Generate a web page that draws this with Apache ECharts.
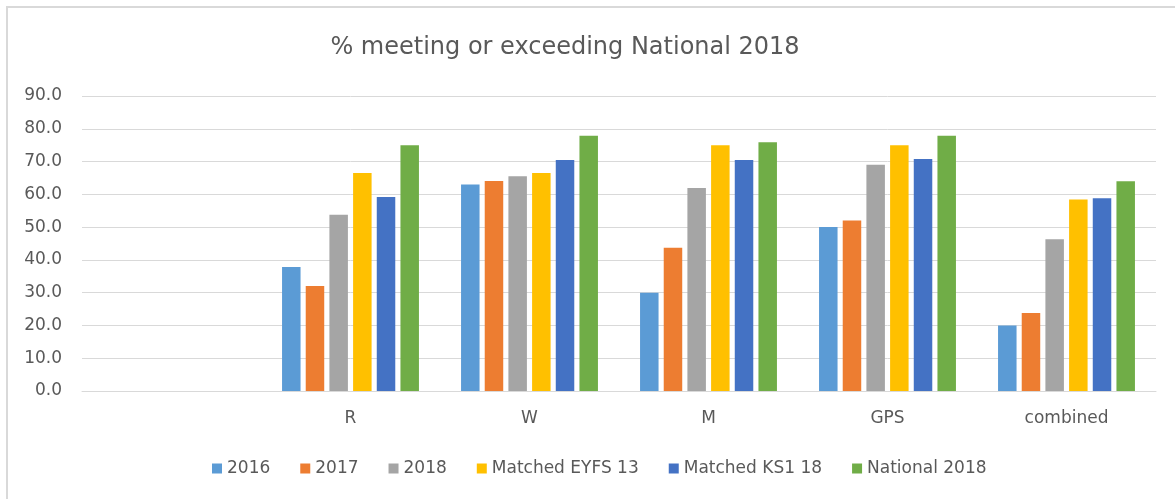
<!DOCTYPE html>
<html>
<head>
<meta charset="utf-8">
<script src="https://cdn.jsdelivr.net/npm/echarts@6/dist/echarts.min.js"></script>
<style>
html,body{margin:0;padding:0;background:#fff;}
#chart{width:1175px;height:499px;}
</style>
</head>
<body>
<div id="chart"></div>
<script>
const categories = ['', 'R', 'W', 'M', 'GPS', 'combined'];
const seriesNames = ['2016', '2017', '2018', 'Matched EYFS 13', 'Matched KS1 18', 'National 2018'];
const s2016 = [null, 37.8, 63.0, 30.0, 50.0, 20.0];
const s2017 = [null, 32.0, 64.1, 43.7, 52.0, 23.8];
const s2018 = [null, 53.8, 65.5, 61.9, 69.0, 46.3];
const sEYFS = [null, 66.5, 66.5, 75.0, 75.0, 58.4];
const sKS1 = [null, 59.2, 70.5, 70.5, 70.8, 58.8];
const sNational = [null, 75.0, 77.9, 75.9, 77.9, 64.0];
const yTicks = [0, 10, 20, 30, 40, 50, 60, 70, 80, 90];
const colors = ['#5B9BD5', '#ED7D31', '#A5A5A5', '#FFC000', '#4472C4', '#70AD47'];

const allData = [s2016, s2017, s2018, sEYFS, sKS1, sNational];
const font = '"DejaVu Sans", "Noto Sans", sans-serif';

const chart = echarts.init(document.getElementById('chart'));
chart.setOption({
  animation: false,
  color: colors,
  textStyle: {fontFamily: font},
  title: {
    text: '% meeting or exceeding National 2018',
    left: 560,
    textAlign: 'center',
    top: 31,
    textStyle: {fontFamily: font, fontSize: 24, fontWeight: 'normal', color: '#595959'}
  },
  graphic: [{
    type: 'rect',
    shape: {x: 7, y: 7, width: 1300, height: 700},
    style: {fill: 'none', stroke: '#d9d9d9', lineWidth: 2},
    silent: true
  }],
  legend: {
    data: seriesNames,
    left: 207,
    top: 455,
    itemWidth: 10,
    itemHeight: 10,
    itemGap: 30,
    icon: 'rect',
    textStyle: {fontFamily: font, fontSize: 17, color: '#595959'}
  },
  grid: {left: 82, right: 19, top: 96, bottom: 108, containLabel: false},
  xAxis: {
    type: 'category',
    data: categories,
    axisLine: {show: true, lineStyle: {color: '#d9d9d9', width: 1}},
    axisTick: {show: false},
    axisLabel: {fontFamily: font, fontSize: 17, color: '#595959', margin: 19}
  },
  yAxis: {
    type: 'value',
    min: yTicks[0],
    max: yTicks[yTicks.length - 1],
    interval: 10,
    axisLine: {show: false},
    axisTick: {show: false},
    splitLine: {lineStyle: {color: '#d9d9d9', width: 1}},
    axisLabel: {fontFamily: font, fontSize: 17, color: '#595959', margin: 20,
      formatter: v => v.toFixed(1)}
  },
  series: seriesNames.map((n, i) => ({
    name: n,
    type: 'bar',
    data: allData[i],
    barWidth: 18.5,
    barGap: '28%',
    itemStyle: {color: colors[i]}
  }))
});
</script>
</body>
</html>
